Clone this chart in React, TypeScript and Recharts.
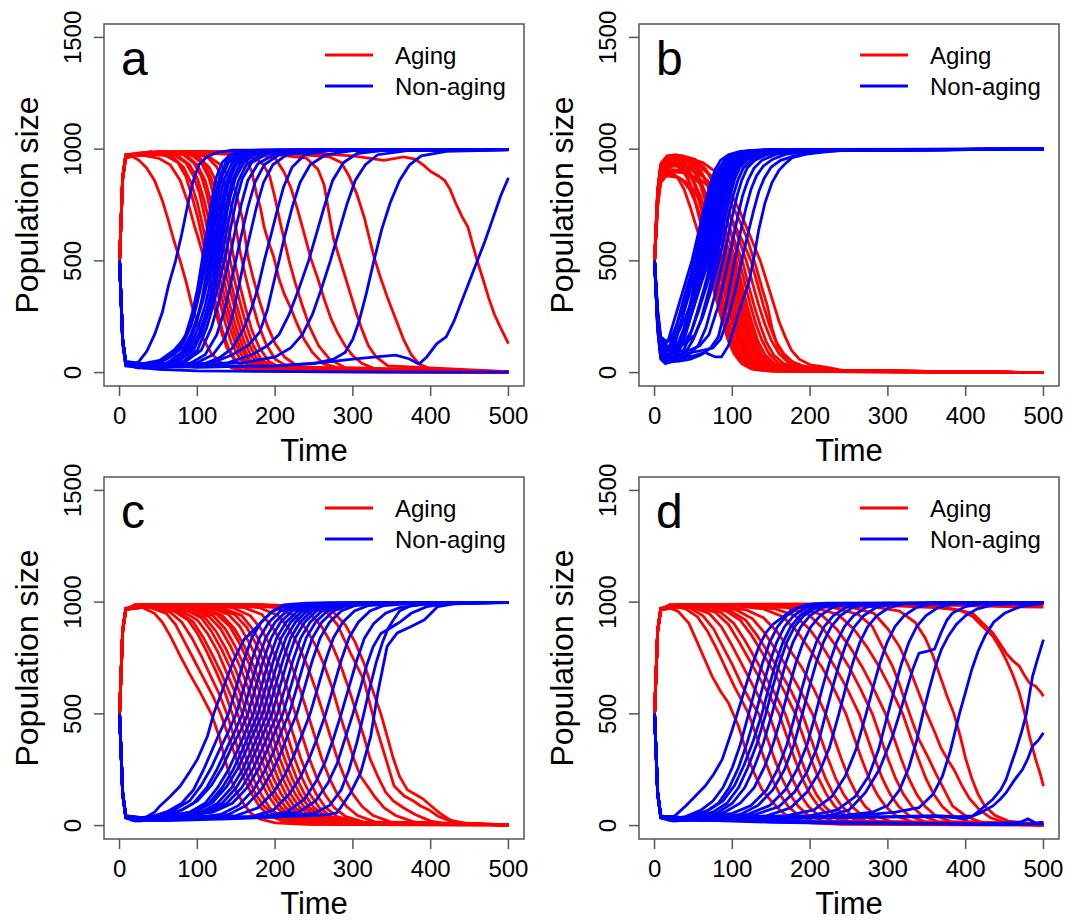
import { LineChart, Line, XAxis, YAxis, ReferenceArea } from "recharts";

// time / population pairs, one array per run
const timeTicks = [0, 100, 200, 300, 400, 500];
const sizeTicks = [0, 500, 1000, 1500];
const seriesNames = ["Aging", "Non-aging"];
const panelLetters = ["a", "b", "c", "d"];

const agingA = [
  [[0,500],[4,860],[8,960],[15,970],[25,950],[35,915],[45,860],[55,770],[62,690],[70,590],[78,500],[86,400],[93,300],[100,225],[108,150],[118,85],[130,45],[145,20],[170,8],[250,3],[500,1]],
  [[0,500],[4,880],[8,975],[30,985],[60,970],[75,940],[85,880],[93,790],[100,700],[106,610],[112,500],[118,400],[125,290],[132,190],[140,110],[150,50],[165,18],[200,5],[500,1]],
  [[0,500],[4,870],[8,968],[30,980],[55,990],[70,960],[82,920],[92,850],[100,760],[108,640],[116,510],[122,420],[128,330],[136,220],[144,130],[155,60],[170,22],[210,6],[500,2]],
  [[0,500],[4,875],[8,972],[40,985],[70,975],[85,940],[95,880],[103,800],[110,690],[116,590],[120,500],[127,400],[134,300],[142,200],[150,120],[160,60],[175,25],[220,6],[500,2]],
  [[0,500],[4,870],[8,965],[40,990],[75,970],[90,930],[100,870],[108,780],[115,680],[120,590],[124,500],[130,410],[138,300],[146,200],[154,120],[165,60],[180,20],[500,3]],
  [[0,500],[4,865],[8,968],[40,985],[80,980],[95,940],[105,880],[112,800],[118,700],[124,590],[128,500],[135,400],[142,300],[150,200],[158,120],[168,55],[185,18],[500,2]],
  [[0,500],[4,878],[8,970],[50,990],[85,975],[100,930],[110,860],[118,760],[125,650],[132,520],[138,420],[145,330],[152,230],[160,140],[170,70],[185,25],[220,6],[500,2]],
  [[0,500],[4,870],[8,972],[50,985],[90,980],[105,940],[115,870],[122,780],[130,650],[136,520],[142,420],[150,310],[158,210],[166,130],[176,65],[190,25],[500,3]],
  [[0,500],[4,872],[8,968],[60,990],[95,975],[110,930],[120,850],[128,760],[135,650],[141,520],[148,410],[156,300],[164,200],[172,120],[182,60],[200,18],[500,2]],
  [[0,500],[4,868],[8,970],[60,985],[100,970],[115,920],[125,850],[133,760],[140,650],[147,510],[154,400],[162,290],[170,190],[180,110],[192,50],[210,15],[500,2]],
  [[0,500],[4,875],[8,972],[70,990],[110,975],[125,920],[135,840],[143,750],[150,640],[155,540],[162,430],[170,320],[178,220],[188,130],[200,60],[220,20],[500,2]],
  [[0,500],[4,870],[8,968],[70,985],[115,965],[130,930],[142,870],[150,800],[158,690],[165,520],[172,420],[180,320],[190,210],[200,130],[212,70],[230,25],[500,3]],
  [[0,500],[4,872],[8,975],[80,990],[140,985],[160,970],[170,900],[176,800],[181,740],[186,650],[192,580],[198,520],[205,420],[212,350],[220,290],[228,220],[237,150],[248,90],[262,40],[290,12],[500,2]],
  [[0,500],[4,870],[8,970],[90,985],[150,975],[175,960],[185,930],[193,880],[200,780],[206,680],[212,590],[218,500],[226,400],[235,300],[245,200],[256,120],[270,60],[290,22],[500,3]],
  [[0,500],[4,868],[8,972],[100,990],[170,980],[200,960],[211,900],[220,830],[228,740],[236,640],[246,510],[255,420],[263,330],[272,240],[280,180],[290,120],[300,75],[312,40],[330,15],[500,3]],
  [[0,500],[4,875],[8,970],[100,985],[200,975],[240,960],[255,910],[263,840],[270,700],[275,600],[282,520],[290,430],[297,350],[305,260],[312,190],[320,120],[330,70],[345,30],[500,4]],
  [[0,500],[4,870],[8,975],[100,990],[200,985],[270,965],[285,940],[295,880],[305,800],[315,690],[322,590],[327,520],[335,430],[345,330],[355,240],[365,150],[375,80],[385,40],[400,15],[500,3]],
  [[0,500],[4,872],[8,970],[100,985],[200,990],[300,970],[340,950],[365,965],[380,955],[392,925],[400,900],[410,880],[418,860],[425,820],[432,760],[440,700],[448,650],[455,560],[460,500],[468,410],[475,330],[482,260],[490,200],[500,130]],
  [[0,500],[4,870],[8,975],[100,988],[200,992],[300,995],[400,996],[500,997]],
  [[0,500],[4,860],[8,960],[25,975],[50,960],[65,930],[78,860],[88,760],[96,660],[103,580],[109,500],[115,400],[122,290],[130,190],[138,110],[148,55],[162,20],[500,2]],
];

const nonAgingA = [
  [[0,500],[4,150],[8,45],[15,30],[25,50],[35,95],[45,170],[55,270],[63,390],[72,500],[80,620],[87,740],[94,850],[102,930],[112,965],[125,985],[145,995],[500,998]],
  [[0,500],[4,140],[8,40],[20,25],[40,35],[60,60],[75,110],[85,170],[93,260],[100,370],[106,500],[112,630],[118,760],[124,870],[132,940],[142,975],[160,992],[500,999]],
  [[0,500],[4,145],[8,35],[25,20],[50,40],[70,80],[82,130],[92,210],[100,320],[105,420],[110,510],[116,640],[122,770],[129,880],[138,950],[150,980],[175,995],[500,999]],
  [[0,500],[4,150],[8,45],[25,30],[50,50],[70,100],[85,160],[95,250],[103,360],[108,440],[113,520],[119,650],[125,780],[132,880],[140,940],[155,980],[180,995],[500,998]],
  [[0,500],[4,135],[8,35],[30,20],[55,30],[75,60],[88,120],[98,210],[106,330],[111,430],[116,510],[122,650],[128,770],[135,870],[145,940],[160,980],[190,996],[500,999]],
  [[0,500],[4,145],[8,40],[30,25],[60,40],[80,90],[92,170],[102,270],[110,380],[115,450],[119,520],[125,640],[131,760],[138,860],[148,935],[165,980],[200,995],[500,999]],
  [[0,500],[4,150],[8,50],[30,40],[60,60],[85,120],[97,210],[107,320],[114,420],[122,520],[128,640],[134,760],[141,860],[150,930],[165,975],[190,993],[500,998]],
  [[0,500],[4,140],[8,40],[35,30],[65,45],[88,100],[100,190],[110,300],[118,420],[125,520],[131,630],[137,750],[145,860],[155,935],[170,975],[200,994],[500,999]],
  [[0,500],[4,145],[8,35],[35,20],[70,40],[90,90],[103,180],[113,290],[121,410],[128,520],[134,640],[141,770],[149,870],[160,940],[175,980],[210,995],[500,999]],
  [[0,500],[4,150],[8,45],[40,30],[75,50],[95,100],[107,190],[117,300],[125,420],[132,530],[138,640],[145,760],[153,860],[163,930],[180,975],[220,994],[500,998]],
  [[0,500],[4,140],[8,40],[40,25],[80,45],[100,100],[112,200],[121,310],[129,420],[136,520],[143,650],[150,770],[158,870],[170,940],[190,980],[230,995],[500,999]],
  [[0,500],[4,145],[8,38],[45,30],[85,50],[105,100],[118,200],[127,310],[135,420],[142,520],[149,640],[157,760],[165,860],[178,935],[200,978],[240,995],[500,999]],
  [[0,500],[4,150],[8,42],[50,25],[90,40],[110,80],[125,170],[135,280],[143,400],[150,510],[157,620],[165,740],[174,850],[186,930],[205,975],[250,994],[500,998]],
  [[0,500],[4,145],[8,40],[50,30],[100,45],[120,80],[135,150],[145,250],[153,380],[160,500],[168,620],[176,740],[185,850],[197,930],[215,975],[260,995],[500,999]],
  [[0,500],[4,140],[8,35],[60,25],[110,40],[130,70],[145,110],[160,200],[170,290],[178,380],[186,500],[195,620],[203,730],[211,832],[222,920],[238,975],[270,993],[500,999]],
  [[0,500],[4,150],[8,40],[70,30],[120,45],[145,80],[165,120],[180,180],[190,280],[198,400],[205,500],[213,620],[222,740],[232,850],[245,930],[265,975],[300,993],[500,999]],
  [[0,500],[4,145],[8,40],[80,25],[140,45],[170,80],[190,120],[205,170],[218,260],[230,370],[243,500],[253,620],[263,740],[274,860],[288,940],[305,980],[340,995],[500,999]],
  [[0,500],[4,150],[8,45],[90,30],[160,45],[200,70],[220,110],[235,170],[248,260],[260,380],[271,500],[282,630],[292,750],[303,860],[316,930],[332,975],[370,993],[500,998]],
  [[0,500],[4,140],[8,38],[100,25],[200,30],[250,40],[275,60],[290,90],[300,150],[308,230],[317,350],[327,500],[337,640],[348,760],[360,860],[373,930],[388,970],[420,990],[500,997]],
  [[0,500],[4,145],[8,35],[100,25],[200,30],[260,45],[300,60],[330,70],[355,78],[372,62],[385,38],[395,70],[408,130],[420,160],[430,230],[440,320],[450,410],[460,500],[470,590],[480,690],[490,790],[500,872]],
  [[0,500],[4,130],[8,30],[50,15],[100,8],[200,5],[300,3],[500,2]],
];

const agingB = [
  [[0,500],[4,760],[8,870],[14,900],[22,895],[30,870],[38,820],[46,740],[53,660],[60,580],[66,500],[73,410],[80,320],[87,230],[94,150],[102,85],[112,40],[125,15],[150,5],[500,0]],
  [[0,500],[4,800],[8,915],[14,950],[24,955],[34,930],[42,880],[50,800],[57,700],[64,600],[70,500],[77,400],[84,300],[91,210],[98,140],[106,80],[116,40],[130,15],[160,5],[500,0]],
  [[0,500],[4,780],[8,900],[15,930],[25,935],[35,910],[44,860],[52,770],[60,670],[67,580],[73,500],[80,400],[87,300],[94,210],[101,140],[109,80],[120,35],[135,12],[500,0]],
  [[0,500],[4,810],[8,925],[15,960],[25,968],[36,950],[45,900],[53,820],[61,720],[69,600],[76,500],[83,400],[90,300],[97,210],[104,135],[112,75],[123,35],[140,12],[500,0]],
  [[0,500],[4,750],[8,860],[15,890],[25,885],[35,865],[45,820],[54,750],[62,670],[71,580],[79,500],[86,410],[93,310],[100,220],[107,140],[115,80],[126,35],[145,10],[500,0]],
  [[0,500],[4,790],[8,905],[15,940],[27,945],[38,925],[48,880],[56,800],[64,710],[73,600],[82,500],[89,400],[96,300],[103,210],[110,135],[118,75],[130,30],[150,10],[500,0]],
  [[0,500],[4,820],[8,935],[16,970],[28,975],[40,960],[50,920],[58,850],[66,760],[76,620],[85,500],[92,400],[99,300],[106,210],[113,135],[121,75],[132,35],[150,12],[500,0]],
  [[0,500],[4,775],[8,890],[15,920],[28,925],[40,900],[50,860],[59,790],[68,700],[78,590],[87,500],[94,400],[101,300],[108,210],[115,130],[123,70],[135,30],[155,10],[500,0]],
  [[0,500],[4,745],[8,850],[15,880],[28,875],[40,855],[52,810],[62,740],[71,660],[81,570],[90,500],[97,400],[104,300],[111,210],[118,130],[126,70],[138,30],[160,10],[500,0]],
  [[0,500],[4,805],[8,920],[16,955],[30,960],[44,940],[55,890],[64,810],[73,720],[83,610],[93,500],[100,400],[107,300],[114,210],[121,135],[129,75],[140,35],[160,12],[500,0]],
  [[0,500],[4,785],[8,900],[16,935],[30,940],[45,920],[57,870],[66,800],[76,700],[86,600],[96,500],[103,400],[110,300],[117,210],[124,135],[132,75],[144,35],[165,12],[500,0]],
  [[0,500],[4,810],[8,925],[16,960],[32,965],[48,945],[60,900],[70,820],[80,720],[90,610],[99,500],[106,400],[113,300],[120,210],[127,135],[135,80],[146,40],[170,12],[500,0]],
  [[0,500],[4,765],[8,880],[16,910],[32,905],[48,880],[60,840],[70,770],[81,680],[92,580],[102,500],[109,400],[116,300],[123,210],[130,140],[138,80],[150,40],[175,12],[500,0]],
  [[0,500],[4,795],[8,910],[16,945],[34,950],[50,930],[63,880],[74,800],[85,700],[95,600],[105,500],[112,400],[119,300],[126,215],[133,140],[142,80],[155,38],[180,12],[500,0]],
  [[0,500],[4,815],[8,930],[16,968],[34,972],[52,955],[66,910],[78,830],[89,720],[99,610],[109,500],[116,400],[123,305],[130,220],[138,145],[147,85],[160,40],[185,12],[500,0]],
  [[0,500],[4,780],[8,895],[16,925],[34,930],[52,905],[68,860],[80,790],[92,690],[103,590],[113,500],[120,400],[128,300],[136,210],[144,135],[153,80],[166,40],[190,14],[220,5],[500,0]],
  [[0,500],[4,800],[8,915],[16,950],[36,955],[55,935],[72,880],[85,800],[97,700],[108,600],[118,500],[126,400],[134,300],[142,215],[150,145],[160,85],[172,45],[195,15],[230,5],[500,0]],
  [[0,500],[4,760],[8,870],[16,900],[36,895],[56,870],[75,820],[90,750],[102,670],[113,590],[124,500],[132,400],[140,300],[148,210],[156,140],[166,85],[178,45],[200,18],[240,5],[500,0]],
  [[0,500],[4,790],[8,905],[16,940],[38,945],[60,920],[80,860],[95,780],[108,690],[119,600],[130,480],[138,380],[145,300],[151,200],[158,120],[166,80],[176,50],[190,30],[210,20],[230,10],[250,4],[500,0]],
  [[0,500],[4,810],[8,925],[16,960],[40,962],[62,940],[82,890],[97,810],[110,720],[123,610],[136,500],[144,410],[152,320],[160,230],[168,160],[176,100],[186,60],[200,35],[220,25],[245,8],[500,0]],
];

const nonAgingB = [
  [[0,500],[4,260],[8,140],[12,120],[18,150],[24,220],[30,290],[36,360],[42,430],[48,500],[54,590],[60,680],[66,770],[72,850],[78,910],[85,950],[95,975],[110,990],[140,998],[500,1000]],
  [[0,500],[4,230],[8,110],[12,90],[18,110],[25,170],[32,260],[39,350],[45,420],[51,500],[57,590],[63,680],[69,770],[75,850],[82,910],[90,950],[100,975],[115,990],[150,998],[500,1000]],
  [[0,500],[4,210],[8,80],[14,60],[20,80],[27,140],[34,220],[41,320],[48,420],[54,500],[60,600],[66,690],[72,780],[78,860],[85,920],[93,955],[105,980],[120,992],[160,999],[500,1000]],
  [[0,500],[4,270],[8,150],[14,130],[20,150],[27,200],[34,270],[41,340],[48,420],[56,500],[62,600],[68,690],[74,780],[80,860],[87,920],[95,955],[107,980],[125,993],[500,1000]],
  [[0,500],[4,190],[8,60],[14,40],[22,50],[30,100],[37,180],[44,280],[51,390],[58,500],[64,600],[70,690],[76,780],[82,860],[89,920],[97,955],[110,980],[130,994],[500,1000]],
  [[0,500],[4,240],[8,120],[14,100],[21,120],[28,170],[35,240],[42,320],[50,410],[60,500],[66,600],[72,700],[78,790],[84,870],[91,925],[100,960],[112,982],[130,994],[500,1000]],
  [[0,500],[4,220],[8,90],[14,70],[22,80],[30,130],[38,200],[46,290],[54,400],[62,500],[68,600],[74,700],[80,790],[86,870],[93,925],[102,960],[115,982],[135,994],[500,1000]],
  [[0,500],[4,200],[8,70],[15,50],[24,60],[32,100],[40,170],[48,270],[56,390],[64,500],[70,600],[76,700],[82,790],[88,865],[95,920],[104,955],[118,980],[140,994],[500,1000]],
  [[0,500],[4,280],[8,160],[15,140],[24,150],[32,190],[40,250],[48,320],[57,410],[66,500],[72,600],[78,700],[84,790],[90,865],[97,920],[106,955],[120,980],[145,995],[500,1000]],
  [[0,500],[4,225],[8,100],[15,80],[24,90],[33,130],[42,200],[50,290],[59,400],[68,500],[74,600],[80,700],[86,790],[92,865],[99,920],[108,955],[122,980],[150,995],[500,1000]],
  [[0,500],[4,250],[8,130],[15,110],[25,115],[34,150],[43,220],[52,310],[61,410],[70,500],[76,600],[82,700],[88,790],[94,865],[101,920],[110,955],[125,980],[155,995],[500,1000]],
  [[0,500],[4,195],[8,65],[15,45],[26,50],[36,90],[45,160],[54,260],[64,380],[73,500],[79,600],[85,700],[91,790],[97,865],[104,920],[113,955],[128,980],[160,995],[500,1000]],
  [[0,500],[4,235],[8,115],[16,95],[27,100],[38,130],[48,190],[57,280],[67,390],[76,500],[82,600],[88,700],[94,790],[100,865],[107,920],[117,955],[132,980],[165,995],[500,1000]],
  [[0,500],[4,210],[8,80],[16,60],[28,65],[40,90],[50,150],[60,240],[70,370],[79,500],[85,600],[91,700],[97,790],[103,865],[110,920],[120,955],[136,980],[170,995],[500,1000]],
  [[0,500],[4,260],[8,140],[16,120],[28,115],[40,130],[52,170],[62,250],[73,370],[83,500],[89,600],[95,700],[101,790],[107,860],[114,915],[124,950],[140,978],[175,995],[500,1000]],
  [[0,500],[4,220],[8,90],[16,70],[30,65],[44,80],[56,120],[66,200],[77,340],[88,500],[94,600],[100,700],[106,790],[112,860],[119,915],[129,950],[145,976],[180,994],[500,1000]],
  [[0,500],[4,240],[8,120],[16,100],[30,95],[45,100],[58,120],[70,170],[82,300],[95,500],[101,600],[107,700],[113,790],[120,860],[128,915],[138,950],[155,975],[190,994],[500,1000]],
  [[0,500],[4,205],[8,75],[16,55],[30,50],[46,60],[60,80],[72,110],[82,160],[93,320],[103,500],[110,620],[117,730],[124,820],[131,880],[140,925],[152,955],[170,978],[210,995],[500,1000]],
  [[0,500],[4,225],[8,105],[16,85],[30,80],[48,90],[62,100],[75,110],[85,150],[95,250],[104,370],[112,500],[120,620],[127,720],[134,810],[141,870],[150,920],[162,950],[180,970],[210,988],[250,997],[500,1000]],
  [[0,500],[4,215],[8,85],[16,65],[30,60],[50,75],[65,90],[78,70],[86,70],[95,120],[104,220],[113,320],[121,400],[128,520],[134,640],[142,760],[151,850],[160,905],[168,935],[177,962],[195,978],[220,988],[255,998],[500,1000]],
];

const agingC = [
  [[0,500],[4,870],[8,965],[15,980],[30,975],[45,950],[55,910],[65,850],[78,760],[90,680],[104,594],[118,500],[128,400],[136,290],[144,200],[151,147],[160,95],[168,58],[180,30],[200,12],[240,5],[500,2]],
  [[0,500],[4,872],[8,968],[20,985],[40,975],[60,950],[72,900],[84,820],[96,740],[108,660],[120,580],[130,500],[140,400],[150,300],[160,210],[170,140],[180,85],[192,45],[210,20],[250,6],[500,2]],
  [[0,500],[4,868],[8,966],[20,990],[45,980],[65,955],[80,910],[93,840],[105,760],[117,670],[128,590],[138,500],[147,400],[156,300],[165,215],[175,140],[186,85],[200,45],[220,18],[500,3]],
  [[0,500],[4,875],[8,970],[25,985],[50,975],[70,960],[88,920],[100,860],[112,780],[124,690],[135,600],[145,500],[154,400],[163,300],[172,210],[182,140],[193,80],[207,40],[230,15],[500,3]],
  [[0,500],[4,870],[8,968],[25,990],[55,980],[75,960],[95,910],[108,840],[120,760],[131,680],[142,590],[152,500],[161,400],[170,300],[180,210],[190,140],[202,80],[216,40],[240,15],[500,3]],
  [[0,500],[4,872],[8,970],[25,985],[55,975],[80,960],[100,920],[113,860],[126,780],[137,690],[148,600],[158,500],[167,400],[176,300],[186,210],[196,140],[208,80],[222,40],[245,15],[500,3]],
  [[0,500],[4,868],[8,965],[30,990],[60,980],[85,965],[105,930],[118,870],[131,790],[143,700],[154,600],[164,500],[173,400],[182,300],[192,210],[202,135],[214,80],[228,40],[250,15],[500,3]],
  [[0,500],[4,875],[8,972],[30,985],[65,980],[90,960],[110,930],[124,870],[137,790],[149,700],[160,600],[170,500],[179,400],[188,300],[198,210],[208,140],[220,80],[235,40],[260,15],[500,3]],
  [[0,500],[4,870],[8,968],[30,990],[70,985],[95,965],[115,935],[130,880],[143,800],[155,710],[166,610],[176,500],[185,400],[194,300],[204,210],[214,140],[226,80],[240,40],[265,15],[500,3]],
  [[0,500],[4,872],[8,970],[35,985],[75,980],[100,965],[120,940],[136,880],[149,800],[161,710],[172,610],[182,500],[191,400],[200,300],[210,210],[220,140],[232,80],[247,40],[270,15],[500,3]],
  [[0,500],[4,868],[8,966],[35,990],[80,985],[105,970],[125,945],[142,890],[155,810],[167,720],[178,620],[188,500],[197,400],[206,300],[216,210],[226,140],[238,80],[253,40],[275,15],[500,3]],
  [[0,500],[4,875],[8,972],[35,985],[85,980],[110,970],[132,940],[148,880],[161,800],[173,710],[184,610],[194,500],[203,400],[212,300],[222,210],[232,140],[244,80],[259,40],[280,15],[500,3]],
  [[0,500],[4,870],[8,968],[40,990],[90,985],[120,970],[140,945],[155,890],[168,810],[180,720],[190,620],[200,500],[209,400],[218,300],[228,210],[238,140],[250,80],[265,40],[290,15],[500,3]],
  [[0,500],[4,872],[8,970],[40,985],[95,980],[125,970],[148,945],[163,890],[176,810],[187,720],[197,620],[207,500],[216,400],[225,300],[235,210],[245,140],[257,80],[272,40],[295,15],[500,3]],
  [[0,500],[4,868],[8,966],[45,990],[100,985],[135,970],[157,940],[171,880],[184,800],[195,710],[205,610],[215,500],[224,400],[233,300],[243,210],[253,140],[265,80],[280,40],[305,15],[500,3]],
  [[0,500],[4,875],[8,972],[45,985],[110,985],[145,975],[168,940],[182,880],[195,800],[206,710],[216,610],[226,500],[235,400],[244,300],[254,210],[264,140],[276,80],[291,40],[315,15],[500,3]],
  [[0,500],[4,870],[8,968],[50,990],[120,985],[160,975],[183,945],[198,880],[211,800],[222,710],[232,610],[242,500],[251,400],[260,300],[270,210],[280,140],[292,85],[306,45],[330,15],[500,3]],
  [[0,500],[4,872],[8,970],[50,985],[130,990],[180,975],[204,940],[218,880],[231,800],[242,710],[252,610],[262,500],[271,400],[280,300],[290,210],[300,140],[312,85],[326,45],[350,15],[500,3]],
  [[0,500],[4,868],[8,966],[60,990],[150,990],[200,975],[225,940],[240,880],[253,800],[264,710],[274,610],[283,500],[292,400],[301,300],[310,220],[318,180],[328,130],[340,80],[355,45],[380,15],[500,3]],
  [[0,500],[4,875],[8,972],[60,985],[160,990],[220,980],[245,950],[260,890],[273,810],[284,720],[295,610],[305,500],[314,400],[322,300],[332,220],[342,150],[352,110],[365,80],[380,50],[400,20],[420,8],[500,3]],
  [[0,500],[4,870],[8,968],[60,990],[180,990],[240,980],[265,960],[280,900],[297,772],[314,653],[327,475],[340,326],[353,177],[366,132],[378,110],[387,88],[398,70],[409,43],[430,13],[500,3]],
  [[0,500],[4,872],[8,970],[60,985],[180,985],[250,975],[275,955],[290,900],[303,820],[315,720],[326,600],[336,500],[344,400],[352,300],[360,220],[370,160],[380,140],[390,120],[400,90],[412,55],[425,25],[445,10],[500,3]],
];

const nonAgingC = [
  [[0,500],[4,150],[8,40],[15,25],[30,30],[45,60],[52,88],[65,130],[78,177],[90,240],[100,296],[113,400],[121,500],[134,623],[147,742],[160,832],[177,891],[194,951],[211,988],[240,996],[500,999]],
  [[0,500],[4,145],[8,38],[20,25],[40,35],[60,60],[80,100],[95,160],[108,250],[118,330],[128,410],[140,500],[150,620],[160,740],[170,840],[182,910],[197,960],[215,985],[250,996],[500,999]],
  [[0,500],[4,150],[8,42],[20,30],[45,45],[70,70],[90,110],[105,180],[118,260],[130,350],[140,420],[150,500],[160,620],[170,740],[180,840],[192,910],[207,960],[225,985],[260,996],[500,999]],
  [[0,500],[4,140],[8,35],[20,20],[50,35],[75,60],[95,100],[112,170],[125,250],[137,340],[148,420],[158,500],[168,620],[178,740],[188,840],[200,910],[215,960],[233,985],[265,996],[500,999]],
  [[0,500],[4,145],[8,40],[25,30],[55,45],[80,70],[100,110],[118,180],[132,260],[144,350],[155,420],[165,500],[175,620],[185,740],[195,840],[207,910],[222,960],[240,985],[270,996],[500,999]],
  [[0,500],[4,150],[8,45],[25,30],[60,40],[90,60],[110,100],[126,170],[140,250],[152,340],[162,420],[172,500],[182,620],[192,740],[202,840],[214,910],[229,960],[247,985],[280,996],[500,999]],
  [[0,500],[4,140],[8,35],[25,20],[60,35],[95,60],[115,100],[132,170],[146,250],[158,340],[168,420],[178,500],[188,620],[198,740],[208,840],[220,910],[235,960],[253,985],[290,996],[500,999]],
  [[0,500],[4,145],[8,40],[30,28],[65,42],[100,65],[120,105],[138,175],[152,255],[164,345],[174,425],[184,500],[194,620],[204,740],[214,840],[226,910],[241,960],[259,985],[295,996],[500,999]],
  [[0,500],[4,150],[8,42],[30,30],[70,40],[105,60],[126,100],[144,170],[158,250],[170,340],[180,420],[190,500],[200,620],[210,740],[220,840],[232,910],[247,960],[265,985],[300,996],[500,999]],
  [[0,500],[4,140],[8,35],[30,22],[75,35],[110,60],[132,100],[150,170],[164,250],[176,340],[186,420],[196,500],[206,620],[216,740],[226,840],[238,910],[253,960],[271,985],[305,996],[500,999]],
  [[0,500],[4,145],[8,40],[35,30],[80,40],[115,60],[138,100],[157,170],[171,250],[183,340],[193,420],[203,500],[213,620],[223,740],[233,840],[245,910],[260,960],[278,985],[310,996],[500,999]],
  [[0,500],[4,150],[8,45],[35,32],[85,45],[120,60],[145,100],[164,170],[178,250],[190,340],[200,420],[210,500],[220,620],[230,740],[240,840],[252,910],[267,960],[285,985],[320,996],[500,999]],
  [[0,500],[4,140],[8,35],[40,22],[90,30],[130,50],[153,90],[172,160],[186,240],[198,330],[208,420],[218,500],[228,620],[238,740],[248,840],[260,910],[275,960],[293,985],[330,996],[500,999]],
  [[0,500],[4,145],[8,40],[40,28],[95,38],[140,50],[163,90],[182,160],[196,240],[208,330],[218,420],[228,500],[238,620],[248,740],[258,840],[270,910],[285,960],[303,985],[340,996],[500,999]],
  [[0,500],[4,150],[8,42],[45,30],[100,40],[150,45],[178,80],[198,150],[213,230],[225,320],[235,410],[245,500],[255,620],[265,740],[275,840],[287,910],[302,960],[320,985],[360,996],[500,999]],
  [[0,500],[4,140],[8,35],[50,22],[110,32],[170,40],[198,70],[218,140],[233,220],[245,310],[255,400],[265,500],[275,620],[285,740],[295,840],[307,910],[322,960],[340,985],[380,996],[500,999]],
  [[0,500],[4,145],[8,40],[50,30],[120,35],[180,40],[215,60],[238,120],[253,200],[265,290],[275,390],[285,500],[295,620],[305,740],[315,840],[327,905],[342,950],[360,975],[390,990],[500,999]],
  [[0,500],[4,150],[8,40],[60,28],[130,35],[190,40],[230,60],[252,110],[268,190],[280,280],[290,390],[300,500],[310,620],[318,720],[326,800],[336,860],[346,880],[360,910],[375,950],[395,980],[420,993],[500,999]],
  [[0,500],[4,140],[8,35],[60,22],[140,30],[200,38],[250,55],[270,90],[285,160],[295,250],[305,370],[314,500],[322,620],[330,730],[338,820],[345,880],[352,920],[360,960],[375,985],[400,995],[500,999]],
  [[0,500],[4,145],[8,40],[60,30],[150,35],[210,40],[250,45],[270,50],[280,58],[297,147],[310,237],[323,400],[332,594],[344,802],[357,862],[375,891],[392,921],[409,980],[430,992],[500,998]],
];

const agingD = [
  [[0,500],[4,870],[8,965],[15,980],[30,960],[44,906],[55,820],[65,740],[74,668],[85,600],[95,549],[108,445],[121,296],[130,220],[138,162],[150,110],[160,73],[170,45],[181,28],[200,12],[240,5],[500,2]],
  [[0,500],[4,875],[8,970],[20,985],[40,970],[55,935],[68,870],[80,790],[92,700],[103,620],[112,560],[121,500],[131,400],[141,300],[151,210],[161,140],[172,85],[185,45],[205,18],[500,3]],
  [[0,500],[4,870],[8,968],[20,990],[45,975],[62,940],[76,880],[88,800],[100,720],[112,630],[123,560],[134,500],[144,400],[154,300],[164,210],[174,140],[185,85],[198,45],[218,18],[500,3]],
  [[0,500],[4,872],[8,970],[25,985],[50,975],[70,950],[86,890],[99,810],[111,730],[123,650],[135,570],[147,500],[157,400],[167,300],[177,210],[187,140],[198,85],[211,45],[231,18],[500,3]],
  [[0,500],[4,868],[8,966],[25,990],[55,980],[78,955],[95,900],[109,820],[122,740],[135,660],[148,580],[160,500],[170,400],[180,300],[190,210],[200,140],[211,85],[224,45],[244,18],[500,3]],
  [[0,500],[4,875],[8,972],[30,985],[60,975],[85,955],[102,905],[116,830],[129,750],[142,670],[155,590],[168,500],[178,400],[188,300],[198,210],[208,140],[219,85],[232,45],[252,18],[500,3]],
  [[0,500],[4,870],[8,968],[30,990],[65,985],[92,960],[110,920],[125,850],[139,770],[153,690],[167,600],[181,500],[191,400],[201,300],[211,210],[221,140],[232,85],[245,45],[265,18],[500,3]],
  [[0,500],[4,872],[8,970],[35,985],[70,980],[98,960],[117,920],[132,850],[147,770],[161,690],[176,600],[190,500],[200,400],[210,300],[220,210],[230,140],[241,85],[254,45],[274,18],[500,3]],
  [[0,500],[4,868],[8,966],[35,990],[75,985],[105,965],[126,925],[142,860],[157,780],[172,700],[188,600],[203,500],[213,400],[223,300],[233,210],[243,140],[254,85],[267,45],[287,18],[500,3]],
  [[0,500],[4,875],[8,972],[40,985],[85,980],[118,965],[140,930],[157,870],[173,790],[189,710],[205,610],[220,500],[230,400],[240,300],[250,210],[260,140],[271,85],[284,45],[304,18],[500,3]],
  [[0,500],[4,870],[8,968],[40,990],[100,985],[140,970],[165,935],[183,870],[199,790],[215,710],[231,610],[246,500],[256,400],[266,300],[276,210],[286,140],[297,85],[310,45],[330,18],[500,3]],
  [[0,500],[4,872],[8,970],[45,985],[110,985],[155,970],[180,940],[199,880],[216,800],[232,710],[248,610],[263,500],[273,400],[283,300],[293,210],[303,140],[314,85],[327,45],[347,18],[500,3]],
  [[0,500],[4,868],[8,966],[45,990],[120,985],[170,975],[198,945],[217,880],[234,800],[250,710],[265,610],[280,500],[290,400],[300,300],[310,210],[320,140],[331,85],[344,45],[364,18],[500,3]],
  [[0,500],[4,875],[8,972],[50,985],[130,990],[185,975],[214,945],[234,880],[251,800],[267,710],[282,610],[297,500],[307,400],[317,300],[327,210],[337,140],[348,85],[361,45],[381,18],[500,3]],
  [[0,500],[4,870],[8,968],[50,990],[150,990],[205,975],[236,945],[256,880],[273,800],[289,710],[304,610],[319,500],[329,400],[339,300],[349,210],[359,140],[370,85],[383,45],[403,18],[500,3]],
  [[0,500],[4,872],[8,970],[60,985],[160,990],[230,975],[262,945],[280,891],[293,800],[306,713],[314,640],[323,549],[332,460],[340,385],[353,296],[362,230],[370,177],[383,88],[400,43],[420,15],[500,3]],
  [[0,500],[4,868],[8,966],[60,990],[170,990],[250,980],[282,950],[300,880],[315,800],[327,710],[338,610],[350,500],[360,420],[368,350],[376,300],[385,250],[395,180],[405,120],[418,70],[432,35],[450,15],[500,4]],
  [[0,500],[4,875],[8,972],[60,985],[180,985],[280,980],[315,960],[335,910],[348,840],[358,760],[367,670],[376,580],[385,500],[393,400],[400,300],[408,210],[416,140],[425,85],[438,45],[455,20],[500,5]],
  [[0,500],[4,870],[8,968],[60,990],[200,990],[300,985],[360,975],[390,965],[409,950],[422,905],[435,862],[445,810],[452,772],[460,740],[469,713],[476,670],[482,638],[490,623],[496,600],[500,579]],
  [[0,500],[4,872],[8,970],[60,985],[200,990],[300,990],[370,980],[395,960],[409,936],[422,890],[435,847],[445,790],[452,742],[460,680],[469,594],[476,500],[482,400],[490,296],[496,230],[500,177]],
  [[0,500],[4,868],[8,966],[60,990],[200,992],[300,990],[400,985],[450,980],[500,978]],
  [[0,500],[4,875],[8,972],[60,985],[200,990],[300,995],[400,990],[460,985],[500,988]],
];

const nonAgingD = [
  [[0,500],[4,145],[8,40],[15,30],[25,40],[40,88],[52,130],[65,177],[76,230],[87,296],[100,430],[108,520],[116,610],[125,713],[134,800],[143,862],[152,900],[160,921],[175,960],[194,988],[220,996],[500,999]],
  [[0,500],[4,150],[8,42],[20,28],[40,40],[60,70],[75,110],[88,170],[100,260],[110,360],[121,500],[130,620],[139,730],[148,820],[158,890],[170,940],[185,975],[205,992],[500,999]],
  [[0,500],[4,140],[8,35],[20,22],[45,35],[65,60],[82,100],[96,170],[108,260],[119,370],[130,500],[139,620],[148,730],[157,820],[167,890],[179,940],[194,975],[214,992],[500,999]],
  [[0,500],[4,145],[8,40],[25,30],[50,45],[70,70],[88,110],[103,180],[115,270],[127,380],[138,500],[147,620],[156,730],[165,820],[175,890],[187,940],[202,975],[222,992],[500,999]],
  [[0,500],[4,150],[8,45],[25,30],[55,40],[75,60],[93,100],[108,170],[120,260],[132,370],[143,500],[152,620],[161,730],[170,820],[180,890],[192,940],[207,975],[227,992],[500,999]],
  [[0,500],[4,140],[8,35],[25,20],[60,30],[82,60],[100,100],[116,170],[128,260],[140,370],[151,500],[160,620],[169,730],[178,820],[188,890],[200,940],[215,975],[235,992],[500,999]],
  [[0,500],[4,145],[8,40],[30,28],[65,38],[90,60],[110,100],[128,170],[141,260],[153,370],[164,500],[173,620],[182,730],[191,820],[201,890],[213,940],[228,975],[248,992],[500,999]],
  [[0,500],[4,150],[8,42],[30,30],[70,40],[100,55],[124,90],[144,160],[158,250],[170,360],[181,500],[190,620],[199,730],[208,820],[218,890],[230,940],[245,975],[265,992],[500,999]],
  [[0,500],[4,140],[8,35],[35,22],[75,30],[110,50],[133,90],[152,160],[167,250],[179,360],[190,500],[199,620],[208,730],[217,820],[227,890],[239,940],[254,975],[274,992],[500,999]],
  [[0,500],[4,145],[8,40],[35,28],[80,38],[120,50],[148,90],[168,160],[183,250],[196,360],[207,500],[216,620],[225,730],[234,820],[244,890],[256,940],[271,975],[291,992],[500,999]],
  [[0,500],[4,150],[8,42],[40,30],[90,40],[130,50],[160,85],[180,150],[196,240],[209,350],[220,500],[229,620],[238,730],[247,820],[257,890],[269,940],[284,975],[304,992],[500,999]],
  [[0,500],[4,140],[8,35],[40,22],[100,30],[145,45],[175,80],[196,150],[212,240],[225,350],[237,500],[246,620],[255,730],[264,820],[274,890],[286,940],[301,975],[321,992],[500,999]],
  [[0,500],[4,145],[8,40],[50,28],[120,38],[170,45],[205,70],[228,130],[245,220],[259,340],[272,500],[281,620],[290,730],[299,820],[309,890],[321,940],[336,975],[356,992],[500,999]],
  [[0,500],[4,150],[8,42],[50,30],[140,40],[200,45],[235,70],[258,130],[275,220],[288,340],[300,500],[309,620],[318,730],[327,820],[337,890],[349,940],[364,975],[384,992],[500,999]],
  [[0,500],[4,140],[8,35],[60,22],[150,30],[220,40],[250,70],[271,147],[289,251],[306,400],[315,500],[323,594],[332,700],[340,772],[350,780],[360,790],[368,860],[376,920],[383,951],[400,980],[420,992],[500,998]],
  [[0,500],[4,145],[8,40],[60,28],[160,35],[240,45],[280,60],[300,90],[315,160],[327,260],[337,380],[345,500],[353,610],[361,710],[369,790],[378,850],[388,900],[400,940],[415,970],[435,988],[500,998]],
  [[0,500],[4,150],[8,42],[70,30],[180,40],[260,45],[310,60],[340,80],[358,140],[370,220],[380,330],[392,500],[400,600],[408,700],[416,780],[425,850],[436,910],[450,950],[470,980],[500,995]],
  [[0,500],[4,140],[8,35],[80,25],[200,35],[300,40],[360,45],[390,40],[409,43],[422,80],[435,118],[445,160],[452,207],[459,280],[465,341],[472,420],[478,500],[486,668],[492,740],[500,832]],
  [[0,500],[4,145],[8,40],[80,28],[200,35],[300,38],[370,40],[400,30],[418,55],[435,88],[445,120],[452,147],[462,200],[473,251],[480,300],[486,356],[493,380],[500,415]],
  [[0,500],[4,150],[8,42],[60,30],[150,20],[250,15],[350,10],[420,8],[470,15],[480,30],[490,12],[500,15]],
  [[0,500],[4,140],[8,35],[60,25],[150,15],[250,10],[350,8],[450,5],[500,8]],
];

const RED = "#ff0000";
const BLUE = "#0000ff";
const FRAME = "#555555";

const toRows = (run: number[][]) => run.map(([t, v]) => ({ t, v }));

const YTick = (props: any) => {
  const { y, payload } = props;
  return (
    <text x={81} y={y} transform={`rotate(-90 81 ${y})`} textAnchor="middle" fontSize={24} fill="#000">
      {payload.value}
    </text>
  );
};

const YTitle = () => (
  <text x={38} y={205} transform="rotate(-90 38 205)" textAnchor="middle" fontSize={32} fill="#000">
    Population size
  </text>
);

const PanelLegend = () => (
  <svg width={220} height={70} style={{ position: "absolute", left: 320, top: 38 }}>
    <line x1={5} x2={53} y1={17} y2={17} stroke={RED} strokeWidth={2.8} />
    <text x={75} y={26} fontSize={24} fill="#000">{seriesNames[0]}</text>
    <line x1={5} x2={53} y1={48} y2={48} stroke={BLUE} strokeWidth={2.8} />
    <text x={75} y={57} fontSize={24} fill="#000">{seriesNames[1]}</text>
  </svg>
);

type PanelProps = { letter: string; aging: number[][][]; nonAging: number[][][]; left: number; top: number };

const Panel = ({ letter, aging, nonAging, left, top }: PanelProps) => (
  <div style={{ position: "absolute", left, top, width: 538, height: 475 }}>
    <LineChart width={538} height={475} margin={{ top: 24, right: 14, left: 0, bottom: 0 }}>
      <XAxis
        type="number"
        dataKey="t"
        domain={[-20, 520]}
        ticks={timeTicks}
        interval={0}
        allowDataOverflow
        axisLine={false}
        tickLine={{ stroke: FRAME, strokeWidth: 1.5 }}
        tickSize={10}
        tickMargin={11}
        tick={{ fontSize: 24, fill: "#000" }}
        height={89}
        label={{ value: "Time", position: "insideBottom", offset: 14, fontSize: 31, fill: "#000" }}
      />
      <YAxis
        type="number"
        domain={[-60, 1560]}
        ticks={sizeTicks}
        interval={0}
        allowDataOverflow
        axisLine={false}
        tickLine={{ stroke: FRAME, strokeWidth: 1.5 }}
        tickSize={10}
        tick={<YTick />}
        width={104}
        label={{ value: "Population size", content: YTitle }}
      />
      {aging.map((run, i) => (
        <Line key={`r${i}`} data={toRows(run)} dataKey="v" type="linear" stroke={RED} strokeWidth={2.8}
          dot={false} activeDot={false} isAnimationActive={false} />
      ))}
      {nonAging.map((run, i) => (
        <Line key={`b${i}`} data={toRows(run)} dataKey="v" type="linear" stroke={BLUE} strokeWidth={2.8}
          dot={false} activeDot={false} isAnimationActive={false} />
      ))}
      <ReferenceArea
        x1={-20}
        x2={520}
        y1={-60}
        y2={1560}
        fill="none"
        stroke={FRAME}
        strokeWidth={1.5}
        ifOverflow="visible"
        label={{ value: letter, position: "insideTopLeft", offset: 17, fontSize: 48, fill: "#000" }}
      />
    </LineChart>
    <PanelLegend />
  </div>
);

export default function App() {
  return (
    <div
      style={{
        position: "absolute",
        left: 0,
        top: 0,
        width: 1077,
        height: 921,
        background: "#fff",
        fontFamily: "'Liberation Sans', Arial, sans-serif",
        overflow: "hidden",
      }}
    >
      <Panel letter={panelLetters[0]} aging={agingA} nonAging={nonAgingA} left={0} top={0} />
      <Panel letter={panelLetters[1]} aging={agingB} nonAging={nonAgingB} left={535} top={0} />
      <Panel letter={panelLetters[2]} aging={agingC} nonAging={nonAgingC} left={0} top={453} />
      <Panel letter={panelLetters[3]} aging={agingD} nonAging={nonAgingD} left={535} top={453} />
    </div>
  );
}
